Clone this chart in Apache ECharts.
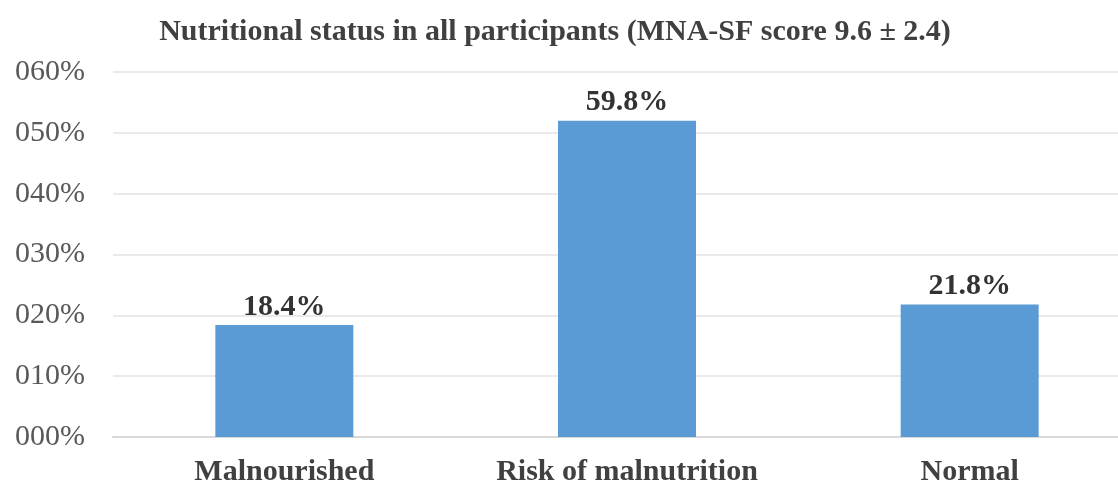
<!DOCTYPE html>
<html>
<head>
<meta charset="utf-8">
<script src="https://cdn.jsdelivr.net/npm/echarts@6/dist/echarts.min.js"></script>
<style>html,body{margin:0;padding:0;background:#fff}#c{width:1118px;height:480px}</style>
</head>
<body>
<div id="c"></div>
<script>
const categories = ['Malnourished', 'Risk of malnutrition', 'Normal'];
const barValues = [18.4, 52.0, 21.8];
const labelTexts = ['18.4%', '59.8%', '21.8%'];
const yTicks = ['000%', '010%', '020%', '030%', '040%', '050%', '060%'];
const titleText = 'Nutritional status in all participants (MNA-SF score 9.6 \u00b1 2.4)';

const chart = echarts.init(document.getElementById('c'));
chart.setOption({
  animation: false,
  backgroundColor: '#ffffff',
  title: {
    text: titleText,
    left: 550, top: 12, textAlign: 'center',
    textStyle: { fontFamily: 'Liberation Serif', fontWeight: 'bold', fontSize: 30, color: '#404040' }
  },
  grid: { left: 113, width: 1028, top: 72, bottom: 43, containLabel: false, outerBoundsMode: 'none' },
  xAxis: {
    type: 'category',
    data: categories,
    axisLine: { lineStyle: { color: '#D9D9D9', width: 2 } },
    axisTick: { show: false },
    axisLabel: { interval: 0, margin: 20, fontFamily: 'Liberation Serif', fontWeight: 'bold', fontSize: 30, color: '#404040' }
  },
  yAxis: {
    type: 'value', min: 0, max: 60, interval: 10,
    axisLine: { show: false }, axisTick: { show: false },
    splitLine: { lineStyle: { color: '#E3E3E3', width: 1.5 } },
    axisLabel: {
      margin: 28, fontFamily: 'Liberation Serif', fontSize: 30, color: '#595959',
      formatter: v => yTicks[Math.round(v / 10)]
    }
  },
  series: [{
    type: 'bar',
    data: barValues,
    barWidth: 138,
    itemStyle: { color: '#5B9BD5' },
    label: {
      show: true, position: 'top', distance: 3,
      fontFamily: 'Liberation Serif', fontWeight: 'bold', fontSize: 30, color: '#333333',
      formatter: p => labelTexts[p.dataIndex]
    }
  }]
});
</script>
</body>
</html>
